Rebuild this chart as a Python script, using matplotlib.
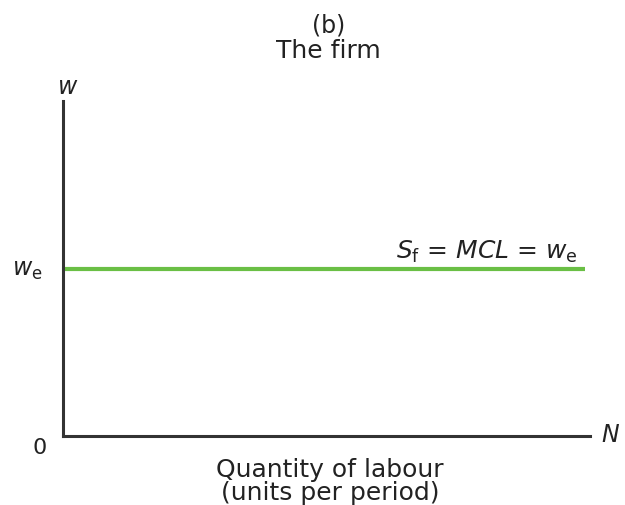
import matplotlib
matplotlib.use("Agg")
import matplotlib.pyplot as plt

# chart data
x_range = [0, 10]
y_range = [0, 10]
wage_e = 5.0
line_end = 9.9
title_lines = ["(b)", "The firm"]
x_label = "Quantity of labour\n(units per period)"
curve_label = r"$S_\mathrm{f}$ = $MCL$ = $w_\mathrm{e}$"

plt.rcParams["font.family"] = ["DejaVu Sans"]
plt.rcParams["mathtext.fontset"] = "dejavusans"

fig = plt.figure(figsize=(6.25, 5.06), dpi=100)
ax = fig.add_axes([63 / 625, 69 / 506, 527 / 625, 335 / 506])
ax.set_xlim(x_range)
ax.set_ylim(y_range)

axis_col = "#333333"
for s in ["top", "right"]:
    ax.spines[s].set_visible(False)
for s in ["left", "bottom"]:
    ax.spines[s].set_color(axis_col)
    ax.spines[s].set_linewidth(2.2)
ax.set_xticks([])
ax.set_yticks([])

# supply of labour to the firm
ax.plot([0, line_end], [wage_e, wage_e], color="#6abf45", lw=3, solid_capstyle="butt")

fs = 17
txt = "#222222"
ax.text(0.08, 10.45, "$w$", fontsize=fs, color=txt, ha="center", va="center")
ax.text(-0.38, wage_e, r"$w_\mathrm{e}$", fontsize=fs, color=txt, ha="right", va="center")
ax.text(-0.44, -0.33, "0", fontsize=fs - 1, color=txt, ha="center", va="center")
ax.text(10.2, 0.05, "$N$", fontsize=fs, color=txt, ha="left", va="center")
ax.text(9.77, wage_e + 0.12, curve_label, fontsize=fs + 1, color=txt, ha="right", va="bottom")

fig.text(0.525, 0.95, title_lines[0], fontsize=fs, color=txt, ha="center", va="center")
fig.text(0.525, 0.90, title_lines[1], fontsize=fs + 1, color=txt, ha="center", va="center")
fig.text(0.528, 0.048, x_label, fontsize=fs + 1, color=txt, ha="center", va="center",
         linespacing=0.95)

fig.savefig("out.png", dpi=100)
